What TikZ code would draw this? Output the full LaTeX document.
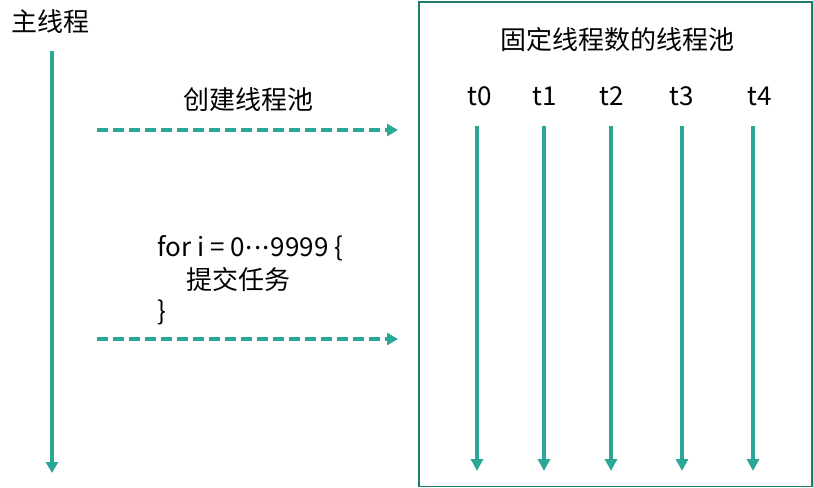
\documentclass[tikz,border=0pt]{standalone}
\usepackage{fontspec}
\setmainfont{Noto Sans CJK SC}
\usetikzlibrary{arrows.meta}
\definecolor{teal1}{HTML}{2BA797}
\definecolor{boxc}{HTML}{1F7A6C}
\tikzset{
  lbl/.style={font=\fontsize{26}{30}\selectfont, inner sep=0pt, text=black},
  mainline/.style={draw=teal1, line width=4pt, -{Triangle[length=11pt,width=12pt]}},
  thr/.style={draw=teal1, line width=3.5pt, -{Triangle[length=12pt,width=12pt]}},
  dsh/.style={draw=teal1, line width=4pt, dash pattern=on 11pt off 5pt, -{Triangle[length=11pt,width=12pt]}},
}
\begin{document}
\begin{tikzpicture}[x=1pt,y=-1pt]
\useasboundingbox (0,0) rectangle (813,487);
\node[draw=boxc, line width=1.5pt, minimum width=393pt, minimum height=484pt, anchor=north west, inner sep=0pt] (pool) at (418,1.5) {};
\node[lbl] (mt) at (50,22) {主线程};
\coordinate (m0) at (52,51);
\coordinate (m1) at (52,473);
\draw[mainline] (m0) -- (m1);
\node[lbl] (create) at (248,100) {创建线程池};
\coordinate (a0) at (97,130);
\coordinate (a1) at (398,130);
\draw[dsh] (a0) -- (a1);
\node[lbl, anchor=west] (for) at (157,248) {for i = 0\kern1pt\raisebox{0.28em}{.\kern1.2pt.\kern1.2pt.}\kern1pt9999 \{};
\node[lbl, anchor=west] (sub) at (186,280) {提交任务};
\node[lbl, anchor=west] (close) at (157,312) {\}};
\coordinate (b0) at (97,339);
\coordinate (b1) at (398,339);
\draw[dsh] (b0) -- (b1);
\node[lbl] (title) at (617,40) {固定线程数的线程池};
\foreach \n/\tx/\ax in {0/480/477, 1/545/544, 2/612/611, 3/682/682, 4/760/753}{
  \node[lbl] (t\n) at (\tx,96) {t\n};
  \coordinate (s\n) at (\ax,126);
  \coordinate (e\n) at (\ax,471);
  \draw[thr] (s\n) -- (e\n);
}
\end{tikzpicture}
\end{document}
